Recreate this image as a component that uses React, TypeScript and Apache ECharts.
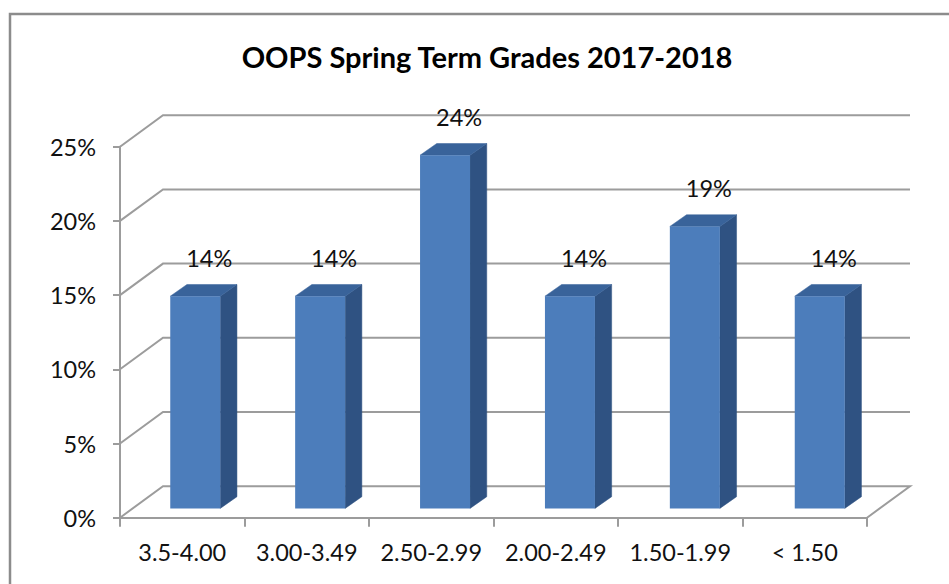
import React, { useEffect, useRef } from "react";
import * as echarts from "echarts";

const titleText = "OOPS Spring Term Grades 2017-2018";
const categories = ["3.5-4.00", "3.00-3.49", "2.50-2.99", "2.00-2.49", "1.50-1.99", "< 1.50"];
const shares = [14.3, 14.3, 23.8, 14.3, 19.0, 14.3];
const gridTicks = [0, 5, 10, 15, 20, 25];

const FONT = "Lato";
const LINE = "#9c9c9c";
const WALL_DX = 43;
const WALL_DY = 31.5;
const BAR_SHIFT_X = 13;
const BAR_DRIFT_X = 0.4;
const BAR_SHIFT_Y = 9.3;
const BAR_DX = 16.7;
const BAR_DY = 11.7;
const BAR_W = 50;

function renderWall(params: any, api: any) {
  const v = api.value(1);
  const band = api.size([1, 0])[0];
  const [cx, y] = api.coord([0, v]);
  const left = cx - band / 2;
  const right = left + band * categories.length;
  const isFloor = v === 0;
  const pts: number[][] = [
    [left, y],
    [left + WALL_DX, y - WALL_DY],
    [right + WALL_DX, y - WALL_DY],
  ];
  if (isFloor) pts.push([right, y]);
  return {
    type: "polyline",
    shape: { points: pts },
    style: { stroke: LINE, lineWidth: 2, fill: "none" },
  };
}

function renderBar(params: any, api: any) {
  const idx = api.value(0);
  const val = api.value(1);
  const [cx, top] = api.coord([idx, val]);
  const [, base] = api.coord([idx, 0]);
  const l = cx + BAR_SHIFT_X + idx * BAR_DRIFT_X - BAR_W / 2;
  const r = l + BAR_W;
  const t = top - BAR_SHIFT_Y;
  const b = base - BAR_SHIFT_Y;
  return {
    type: "group",
    children: [
      {
        type: "polygon",
        shape: { points: [[r, t], [r + BAR_DX, t - BAR_DY], [r + BAR_DX, b - BAR_DY], [r, b]] },
        style: { fill: "#2f5282", stroke: "#2f5282", lineWidth: 0.5 },
      },
      {
        type: "polygon",
        shape: { points: [[l, t], [l + BAR_DX, t - BAR_DY], [r + BAR_DX, t - BAR_DY], [r, t]] },
        style: { fill: "#39639a", stroke: "#39639a", lineWidth: 0.5 },
      },
      {
        type: "rect",
        shape: { x: l, y: t, width: BAR_W, height: b - t },
        style: { fill: "#4c7dbb" },
      },
    ],
  };
}

function renderLabel(params: any, api: any) {
  const idx = api.value(0);
  const val = api.value(1);
  const [cx, top] = api.coord([idx, val]);
  return {
    type: "text",
    x: cx + BAR_SHIFT_X + idx * BAR_DRIFT_X + 14,
    y: top - BAR_SHIFT_Y - 38,
    style: {
      text: `${Math.round(val)}%`,
      font: `23.5px ${FONT}`,
      fill: "#111111",
      textAlign: "center",
      textVerticalAlign: "middle",
    },
  };
}

export default function App() {
  const ref = useRef<HTMLDivElement>(null);
  useEffect(() => {
    const chart = echarts.init(ref.current!, null, { renderer: "svg" });
    const barData = shares.map((v, i) => [i, v]);
    chart.setOption({
      animation: false,
      backgroundColor: "#ffffff",
      title: {
        text: titleText,
        left: 482,
        top: 37,
        textAlign: "center",
        textStyle: { fontFamily: FONT, fontSize: 29, fontWeight: "bold", color: "#000000" },
      },
      grid: { left: 120, top: 146.7, width: 747, height: 371 },
      xAxis: {
        type: "category",
        data: categories,
        axisLine: { lineStyle: { color: LINE, width: 2 } },
        axisTick: { show: true, length: 9, alignWithLabel: false, lineStyle: { color: LINE, width: 2 } },
        axisLabel: { fontFamily: FONT, fontSize: 23.5, color: "#111111", margin: 22, interval: 0 },
      },
      yAxis: {
        type: "value",
        min: 0,
        max: 25,
        interval: 5,
        axisLine: { show: true, lineStyle: { color: LINE, width: 2 } },
        axisTick: { show: true, length: 7, lineStyle: { color: LINE, width: 2 } },
        axisLabel: { fontFamily: FONT, fontSize: 23.5, color: "#111111", margin: 24, formatter: "{value}%" },
        splitLine: { show: false },
      },
      graphic: [
        {
          type: "polyline",
          silent: true,
          shape: { points: [[10, 584], [10, 14], [949, 14]] },
          style: { stroke: "#8c8c8c", lineWidth: 2.5, fill: "none" },
        },
      ],
      series: [
        {
          type: "custom",
          renderItem: renderWall,
          data: gridTicks.map((v) => [0, v]),
          encode: { x: 0, y: 1 },
          z: 1,
          silent: true,
        },
        {
          type: "custom",
          renderItem: renderBar,
          data: barData,
          encode: { x: 0, y: 1 },
          z: 3,
          silent: true,
        },
        {
          type: "custom",
          renderItem: renderLabel,
          data: barData,
          encode: { x: 0, y: 1 },
          z: 4,
          silent: true,
        },
      ],
    });
    return () => chart.dispose();
  }, []);
  return (
    <div
      ref={ref}
      style={{ position: "absolute", left: 0, top: 0, width: 949, height: 584 }}
    />
  );
}
